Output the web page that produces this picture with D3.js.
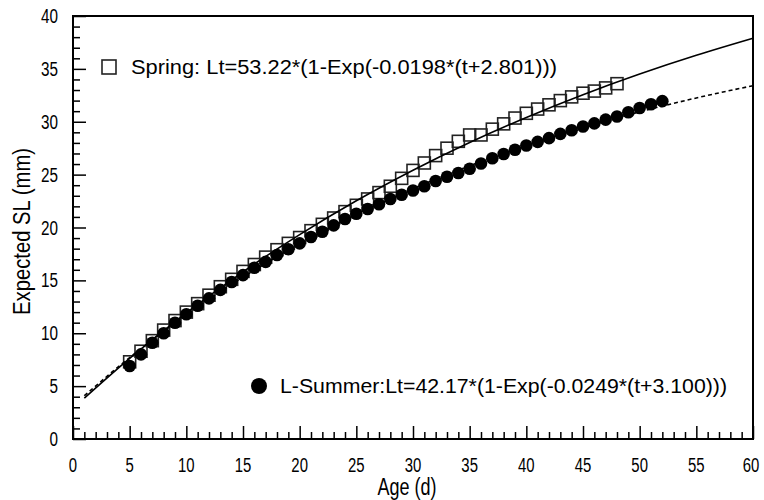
<!DOCTYPE html>
<html><head><meta charset="utf-8">
<script src="https://cdn.jsdelivr.net/npm/d3@7"></script>
<style>
html,body{margin:0;padding:0;background:#fff;}
svg{display:block;}
text{font-family:"Liberation Sans",Arial,sans-serif;fill:#000;}
</style></head>
<body>
<svg id="chart" width="764" height="500"></svg>
<script>
// ---- data ----
const springAge = [5,6,7,8,9,10,11,12,13,14,15,16,17,18,19,20,21,22,23,24,25,26,27,28,29,30,31,32,33,34,35,36,37,38,39,40,41,42,43,44,45,46,47,48];
const springSL  = [7.3,8.3,9.3,10.3,11.2,12.0,12.8,13.6,14.4,15.1,15.85,16.5,17.2,17.9,18.5,19.05,19.7,20.3,20.9,21.5,22.1,22.7,23.3,23.9,24.65,25.4,26.1,26.8,27.5,28.15,28.75,28.75,29.3,29.8,30.35,30.8,31.2,31.6,32.0,32.35,32.7,32.9,33.2,33.6];
const summerAge = [5,6,7,8,9,10,11,12,13,14,15,16,17,18,19,20,21,22,23,24,25,26,27,28,29,30,31,32,33,34,35,36,37,38,39,40,41,42,43,44,45,46,47,48,49,50,51,52];
const summerSL  = [6.9,8.0,9.1,10.0,11.0,11.8,12.6,13.3,14.1,14.85,15.5,16.2,16.75,17.4,17.95,18.5,19.1,19.6,20.2,20.8,21.3,21.75,22.2,22.7,23.1,23.5,23.9,24.4,24.8,25.15,25.55,26.05,26.55,26.95,27.35,27.75,28.1,28.45,28.85,29.2,29.55,29.85,30.2,30.5,30.9,31.3,31.65,31.95];
const fitAge    = [1,5,10,15,20,25,30,35,40,45,50,55,60];
const springFit = [3.86,7.62,11.92,15.81,19.33,22.53,25.42,28.04,30.41,32.56,34.51,36.28,37.89];
const summerFit = [4.09,7.70,11.74,15.30,18.44,21.22,23.67,25.84,27.75,29.44,30.93,32.25,33.41];
const xTicks = [0,5,10,15,20,25,30,35,40,45,50,55,60];
const yTicks = [0,5,10,15,20,25,30,35,40];
const springLabel = "Spring: Lt=53.22*(1-Exp(-0.0198*(t+2.801)))";
const summerLabel = "L-Summer:Lt=42.17*(1-Exp(-0.0249*(t+3.100)))";
const xTitle = "Age (d)";
const yTitle = "Expected SL (mm)";

// ---- layout ----
const svg = d3.select("#chart");
const m = {left:73, right:11, top:16, bottom:61};
const W = 764, H = 500;
const x = d3.scaleLinear().domain([0,60]).range([m.left, W-m.right]);
const y = d3.scaleLinear().domain([0,40]).range([H-m.bottom, m.top]);

// frame
svg.append("rect").attr("x",x(0)).attr("y",y(40)).attr("width",x(60)-x(0)).attr("height",y(0)-y(40))
  .attr("fill","none").attr("stroke","#000").attr("stroke-width",2);

// x axis ticks (inward, up)
const xMinor = d3.range(0,61,1).filter(v=>v%5!==0);
svg.append("g").attr("transform",`translate(0,${y(0)})`)
  .call(d3.axisTop(x).tickValues(xMinor).tickSize(7).tickFormat(""))
  .call(g=>g.select(".domain").remove()).selectAll("line").attr("stroke-width",1.5);
svg.append("g").attr("transform",`translate(0,${y(0)})`)
  .call(d3.axisTop(x).tickValues(xTicks).tickSize(13).tickFormat(""))
  .call(g=>g.select(".domain").remove()).selectAll("line").attr("stroke-width",1.5);
svg.append("g").selectAll("text").data(xTicks).join("text")
  .attr("x",d=>x(d) - (d===60 ? 2 : 0)).attr("y",y(0)+33).attr("text-anchor","middle")
  .attr("font-size",19.5).attr("textLength",d=>String(d).length*8.3).attr("lengthAdjust","spacingAndGlyphs")
  .text(d=>d);

// y axis ticks (inward, right)
const yMinor = d3.range(0,41,1).filter(v=>v%5!==0);
svg.append("g").attr("transform",`translate(${x(0)},0)`)
  .call(d3.axisRight(y).tickValues(yMinor).tickSize(7).tickFormat(""))
  .call(g=>g.select(".domain").remove()).selectAll("line").attr("stroke-width",1.5);
svg.append("g").attr("transform",`translate(${x(0)},0)`)
  .call(d3.axisRight(y).tickValues(yTicks).tickSize(13).tickFormat(""))
  .call(g=>g.select(".domain").remove()).selectAll("line").attr("stroke-width",1.5);
svg.append("g").selectAll("text").data(yTicks).join("text")
  .attr("x",x(0)-15).attr("y",d=>y(d)+7).attr("text-anchor","end")
  .attr("font-size",19.5).attr("textLength",d=>String(d).length*8.5).attr("lengthAdjust","spacingAndGlyphs")
  .text(d=>d);

// titles
svg.append("text").attr("x",(x(0)+x(60))/2-6).attr("y",495).attr("text-anchor","middle")
  .attr("font-size",23).attr("textLength",59).attr("lengthAdjust","spacingAndGlyphs").text(xTitle);
svg.append("text").attr("transform",`translate(30,${(y(0)+y(40))/2+4}) rotate(-90)`)
  .attr("text-anchor","middle").attr("font-size",23)
  .attr("textLength",167).attr("lengthAdjust","spacingAndGlyphs").text(yTitle);

// squares (spring data)
const sq = 12;
svg.append("g").selectAll("rect").data(springAge).join("rect")
  .attr("x",d=>x(d)-sq/2).attr("y",(d,i)=>y(springSL[i])-sq/2)
  .attr("width",sq).attr("height",sq).attr("fill","none")
  .attr("stroke","#222").attr("stroke-width",1.6);

// fit lines
const line = d3.line().curve(d3.curveMonotoneX);
svg.append("path").attr("d",line(fitAge.map((a,i)=>[x(a),y(springFit[i])])))
  .attr("fill","none").attr("stroke","#000").attr("stroke-width",1.6);
svg.append("path").attr("d",line(fitAge.map((a,i)=>[x(a),y(summerFit[i])])))
  .attr("fill","none").attr("stroke","#000").attr("stroke-width",1.6).attr("stroke-dasharray","4,3");

// circles (summer data)
svg.append("g").selectAll("circle").data(summerAge).join("circle")
  .attr("cx",d=>x(d)).attr("cy",(d,i)=>y(summerSL[i])).attr("r",6.3).attr("fill","#000");

// legend
svg.append("rect").attr("x",102).attr("y",60).attr("width",14).attr("height",14)
  .attr("fill","none").attr("stroke","#222").attr("stroke-width",1.6);
svg.append("text").attr("x",131).attr("y",74).attr("font-size",19.5)
  .attr("textLength",426).attr("lengthAdjust","spacingAndGlyphs").text(springLabel);
svg.append("circle").attr("cx",259).attr("cy",386).attr("r",8).attr("fill","#000");
svg.append("text").attr("x",280).attr("y",393).attr("font-size",19.5)
  .attr("textLength",447).attr("lengthAdjust","spacingAndGlyphs").text(summerLabel);
</script>
</body></html>
